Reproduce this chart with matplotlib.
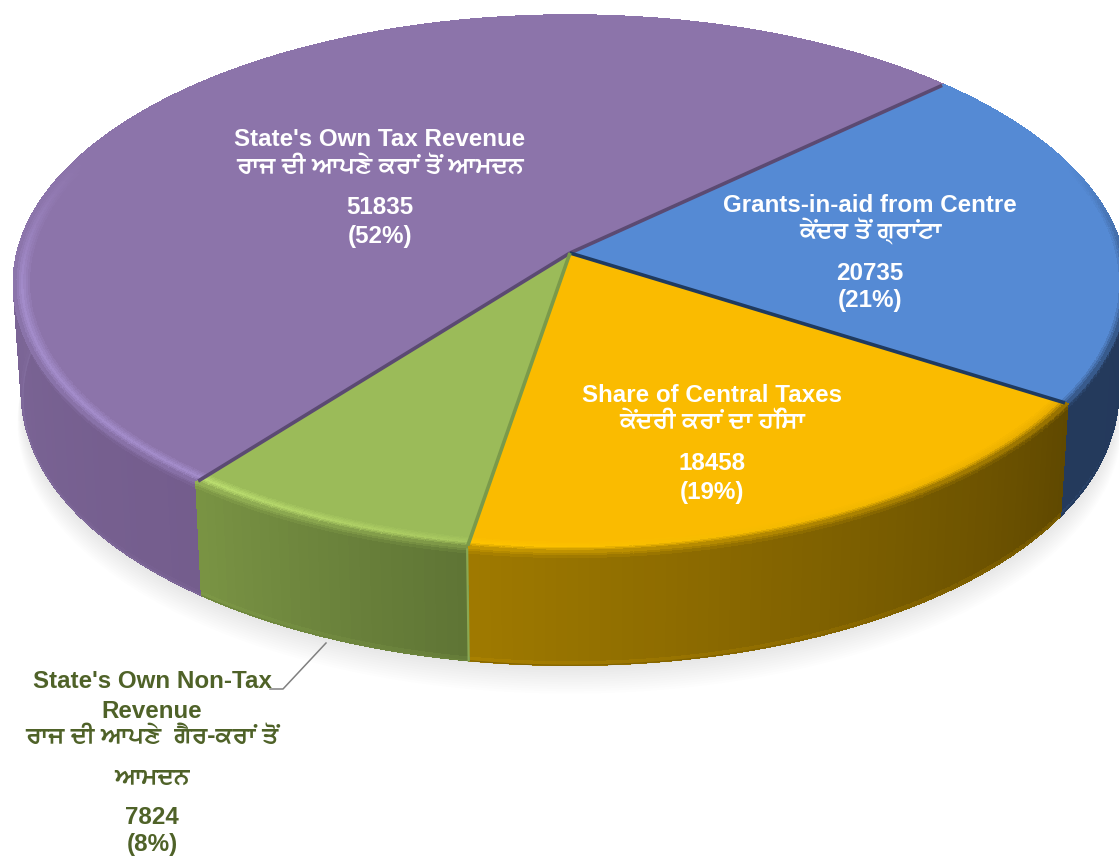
import matplotlib
matplotlib.use('Agg')
import matplotlib.pyplot as plt
import matplotlib.colors as mcolors
from matplotlib.collections import PolyCollection
import numpy as np

# Revenue receipts, clockwise from the purple/green cut
names = ["State's Own Tax Revenue", "Grants-in-aid from Centre", "Share of Central Taxes", "State's Own Non-Tax Revenue"]
values = [51835, 20735, 18458, 7824]
percents = ["(52%)", "(21%)", "(19%)", "(8%)"]
punjabi = ["ਰਾਜ ਦੀ ਆਪਣੇ ਕਰਾਂ ਤੋਂ ਆਮਦਨ", "ਕੇਂਦਰ ਤੋਂ ਗ੍ਰਾਂਟਾ", "ਕੇਂਦਰੀ ਕਰਾਂ ਦਾ ਹਿੱਸਾ", "ਰਾਜ ਦੀ ਆਪਣੇ  ਗੈਰ-ਕਰਾਂ ਤੋਂ"]

top_colors = ["#8c74aa", "#558ad4", "#fabb00", "#9bbb59"]
cut_colors = ["#5b4a72", "#5b4a72", "#1f3a5f", "#7a9a4a"]
wall_colors = [("#745d8d", "#8f7cae"), ("#22375a", "#243a5c"), ("#604900", "#a07a00"), ("#5f7535", "#7a9444")]
rim_colors = [("#a48dcc", "#a48dcc"), ("#558ad4", "#558ad4"), ("#e8ad00", "#ffc400"), ("#a8c85f", "#bcdf70")]

START = 218.0
CX, CY = 570, 253
RX, RY, K = 553, 265, 0.1136
DEPTH = 114
BEVEL = 0.968


def project(angle, r=1.0, drop=0.0):
    """Angle in degrees clockwise from 12 o'clock to picture pixels, with some perspective."""
    a = np.radians(angle)
    px = r * np.sin(a)
    py = -r * np.cos(a)
    w = 1 - K * py
    shrink = 1 - 0.015 * drop / DEPTH
    return CX + RX * px / w * shrink, CY + RY * py / w + drop


def mix(c1, c2, t):
    return tuple((1 - t) * np.array(mcolors.to_rgb(c1)) + t * np.array(mcolors.to_rgb(c2)))


def quad(a0, a1, r0, d0, r1, d1):
    return [project(a0, r0, d0), project(a1, r0, d0), project(a1, r1, d1), project(a0, r1, d1)]


fig = plt.figure(figsize=(11.19, 8.58), dpi=100)
ax = fig.add_axes([0, 0, 1, 1])
ax.set_xlim(0, 1119)
ax.set_ylim(858, 0)
ax.axis('off')

edges = START + np.concatenate([[0], np.cumsum(values)]) / np.sum(values) * 360

# soft shadow under the pie
ring = np.linspace(0, 360, 361)
for i in range(12):
    x, y = project(ring, 1.0 + 0.001 * i, DEPTH + 2 + 2 * i)
    ax.fill(x, y, color='black', alpha=0.009, lw=0, zorder=1)

# side walls
for i in range(len(values)):
    angles = np.linspace(edges[i], edges[i + 1], max(int(edges[i + 1] - edges[i]), 2))
    quads, colors = [], []
    for j in range(len(angles) - 1):
        t = j / (len(angles) - 1)
        wall = mix(wall_colors[i][0], wall_colors[i][1], t)
        rim = mix(rim_colors[i][0], rim_colors[i][1], t)
        for d0, d1, shade in [(0, 2, 0.6), (2, 4, 0.75), (4, 7, 0.9), (7, DEPTH - 4, 1.0)]:
            quads.append(quad(angles[j], angles[j + 1], 1.0, d0, 1.0, d1))
            colors.append(mix(rim, wall, shade))
        quads.append(quad(angles[j], angles[j + 1], 1.0, DEPTH - 4, 0.998, DEPTH))
        colors.append(mix(wall, top_colors[i], 0.1))
    ax.add_collection(PolyCollection(quads, facecolors=colors, edgecolors=colors, linewidths=0.5,
                                     antialiaseds=False, zorder=2))
    bx, by = project(angles, 0.998, DEPTH)
    ax.plot(bx, by, color=mix(wall_colors[i][0], wall_colors[i][1], 0.5), lw=0.8, zorder=2)

# top faces
for i in range(len(values)):
    angles = np.linspace(edges[i], edges[i + 1], 200)
    x, y = project(angles, 1.0)
    ax.fill(np.r_[CX, x], np.r_[CY, y], color=top_colors[i], lw=0, zorder=3)

# bevel along the front rim, fading out towards the back
steps = np.linspace(BEVEL, 1.0, 9)
for i in range(len(values)):
    angles = np.linspace(edges[i], edges[i + 1], max(int(edges[i + 1] - edges[i]), 2))
    quads, colors = [], []
    for j in range(len(angles) - 1):
        t = j / (len(angles) - 1)
        front = np.clip((-np.cos(np.radians(angles[j])) + 0.35) / 0.5, 0, 1)
        wall = mix(wall_colors[i][0], wall_colors[i][1], t)
        rim = mix(rim_colors[i][0], rim_colors[i][1], t)
        for n in range(len(steps) - 1):
            s = n / (len(steps) - 2)
            if s < 0.6:
                shade = mix(top_colors[i], rim, s / 0.6)
            else:
                shade = mix(rim, wall, (s - 0.6) / 0.4 * 0.6)
            quads.append(quad(angles[j], angles[j + 1], steps[n], 0, steps[n + 1], 0))
            colors.append(mix(top_colors[i], shade, front))
    ax.add_collection(PolyCollection(quads, facecolors=colors, edgecolors=colors, linewidths=0.5,
                                     antialiaseds=False, zorder=3.5))

# dark cuts between the slices
for i in range(len(values)):
    x, y = project(np.array([edges[i], edges[i]]), np.array([0.0, 0.995]))
    ax.plot(x, y, color=cut_colors[i], lw=2.6, solid_capstyle='butt', zorder=4)

# light corner of the green slice against the yellow one
x, y = project(np.array([edges[3], edges[3]]), 1.0, np.array([2.0, DEPTH - 1.0]))
ax.plot(x, y, color='#8aa852', lw=1.6, zorder=4)

# leader line of the small slice
ax.plot([326, 283, 270], [643, 689, 689], color='#808080', lw=1.1, zorder=4)

FONT = ['Liberation Sans', 'Noto Sans', 'DejaVu Sans']
PA_FONT = ['FreeSans', 'Liberation Sans']
SIZE = 17.4
PA_SIZE = 16.9
label_pos = [(380, [139, 167, 207, 236]), (870, [205, 231, 273, 300]), (712, [395, 422, 463, 492])]
for i, (lx, ys) in enumerate(label_pos):
    ax.text(lx, ys[0], names[i], color='white', fontsize=SIZE, fontweight='bold', family=FONT, ha='center', va='center', zorder=5)
    ax.text(lx, ys[1], punjabi[i], color='white', fontsize=PA_SIZE, fontweight='bold', family=PA_FONT, ha='center', va='center', zorder=5)
    ax.text(lx, ys[2], f"{values[i]}", color='white', fontsize=SIZE, fontweight='bold', family=FONT, ha='center', va='center', zorder=5)
    ax.text(lx, ys[3], percents[i], color='white', fontsize=SIZE, fontweight='bold', family=FONT, ha='center', va='center', zorder=5)

green = '#4f6228'
small_lines = [("State's Own Non-Tax", 682, SIZE, FONT), ("Revenue", 711, SIZE, FONT), (punjabi[3], 737, PA_SIZE, PA_FONT),
               ("ਆਮਦਨ", 778, PA_SIZE, PA_FONT), (f"{values[3]}", 817, SIZE, FONT), (percents[3], 845, SIZE, FONT)]
for line, ly, size, fam in small_lines:
    ax.text(152, ly, line, color=green, fontsize=size, fontweight='bold', family=fam, ha='center', va='center', zorder=5)

fig.savefig('out.png', dpi=100)
